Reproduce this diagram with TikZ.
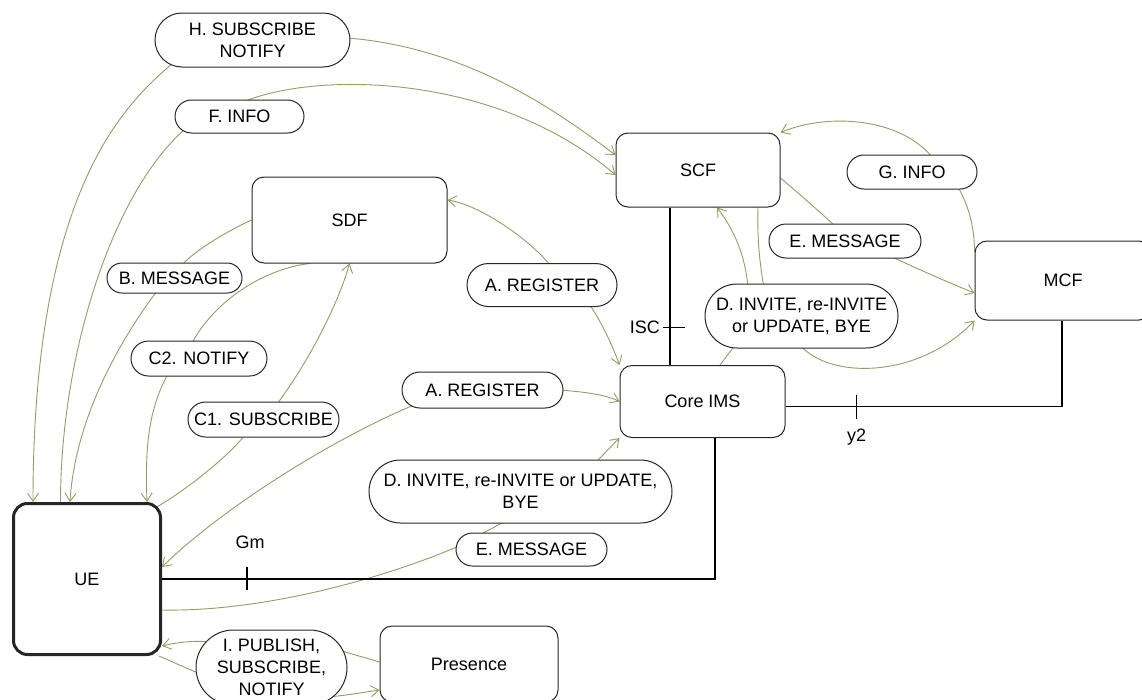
\documentclass[tikz,border=0pt]{standalone}
\usepackage{fontspec}
\setmainfont{Liberation Sans}
\usetikzlibrary{arrows.meta}
\usetikzlibrary{backgrounds}
\definecolor{flowgreen}{RGB}{145,160,95}

\begin{document}
\begin{tikzpicture}[x=1pt,y=-1pt,>={Straight Barb[length=8pt,width=11pt]},
  font=\fontsize{18}{22}\selectfont,
  box/.style={draw=black!85,line width=1pt,fill=white,rounded corners=12pt,inner sep=2pt},
  msg/.style={draw=black!85,line width=1pt,fill=white,align=center,inner sep=3pt,
    minimum height=#1,rounded corners=#1/2},
  flow/.style={draw=flowgreen,line width=0.9pt},
  link/.style={draw=black,line width=1.2pt},
  tag/.style={inner sep=1pt}]
\useasboundingbox (0,0) rectangle (1142,699);

% The boxes
\node[box,line width=3pt,rounded corners=14pt,minimum width=147pt,minimum height=151pt] (ue) at (87,579) {UE};
\node[box,minimum width=195pt,minimum height=86pt] (sdf) at (349.5,220) {SDF};
\node[box,minimum width=164pt,minimum height=74pt] (scf) at (698,170) {SCF};
\node[box,minimum width=165pt,minimum height=72pt] (core) at (702.5,401.5) {Core IMS};
\node[box,minimum width=176pt,minimum height=79pt] (mcf) at (1063,280.5) {MCF};
\node[box,minimum width=178pt,minimum height=76pt] (pres) at (469,664) {Presence};

% The message labels
\node[msg=54pt,minimum width=195pt] (h) at (252.5,40) {H. SUBSCRIBE\\NOTIFY};
\node[msg=33pt,minimum width=129pt] (f) at (239.5,116.5) {F. INFO};
\node[msg=30pt,minimum width=135pt] (b) at (174.5,278) {B. MESSAGE};
\node[msg=35pt,minimum width=136pt] (ctwo) at (199,358.5) {C2. NOTIFY};
\node[msg=35pt,minimum width=151pt] (cone) at (263.5,419.5) {C1. SUBSCRIBE};
\node[msg=43pt,minimum width=150pt] (aone) at (542,285) {A. REGISTER};
\node[msg=36pt,minimum width=161pt] (atwo) at (482.5,390) {A. REGISTER};
\node[msg=63pt,minimum width=303pt] (dtwo) at (520.5,491.5) {D. INVITE, re-INVITE or UPDATE,\\BYE};
\node[msg=33pt,minimum width=151pt] (etwo) at (531.5,549.5) {E. MESSAGE};
\node[msg=64pt,minimum width=193pt] (done) at (801.5,316) {D. INVITE, re-INVITE\\or UPDATE, BYE};
\node[msg=34pt,minimum width=152pt] (eone) at (845,241) {E. MESSAGE};
\node[msg=34pt,minimum width=130pt] (g) at (912,172) {G. INFO};
\node[msg=75pt,minimum width=151pt] (i) at (271.5,667.5) {I. PUBLISH,\\SUBSCRIBE,\\NOTIFY};

% The interfaces
\draw[link] ([xshift=-28pt]scf.south) -- coordinate[pos=.76] (isc) ([xshift=-28pt]scf.south |- core.north);
\draw[link] ([xshift=-7pt]isc) -- ([xshift=15pt]isc);
\node[tag,anchor=east] (isclab) at ([xshift=-9pt]isc) {ISC};

\draw[link] ([yshift=-5pt]core.east) -| ([xshift=-1pt]mcf.south);
\coordinate (ytwo) at ([shift={(71,5)}]core.east);
\draw[link] ([yshift=12pt]ytwo) -- ([yshift=-12pt]ytwo);
\node[tag] (ytwolab) at ([yshift=-31pt]ytwo) {y2};

\draw[link] ([xshift=12.5pt]core.south) |- (ue.east);
\coordinate (gm) at ([xshift=85pt]ue.east);
\draw[link] ([yshift=12pt]gm) -- ([yshift=-11pt]gm);
\node[tag] (gmlab) at ([xshift=3pt,yshift=37pt]gm) {Gm};

% The message flows, behind the labels
\begin{scope}[on background layer]
\draw[flow,<->] ([shift={(-54,0)}]ue.north) .. controls +(0,-323) and +(-42,37) .. ([shift={(-78.5,22)}]h.center)
  -- ([shift={(95.5,-2)}]h.center) .. controls +(120,10) and +(-60,-45) .. ([shift={(0,-15)}]scf.west);
\draw[flow,->] ([shift={(-26.5,0)}]ue.north) .. controls +(0,-142) and +(-75,66) .. ([shift={(-54.5,12.5)}]f.center)
  -- ([shift={(3.5,-14.5)}]f.center) .. controls +(77,-32) and +(-116,-100) .. ([shift={(0,5)}]scf.west);
\draw[flow,->] (sdf.west) .. controls +(-22,10) and +(13,-15) .. ([shift={(7.5,-13)}]b.center)
  -- ([shift={(-17.5,13)}]b.center) .. controls +(-37,49) and +(5,-83) .. ([shift={(-17,0)}]ue.north);
\draw[flow,->] ([shift={(-39.5,0)}]sdf.south) .. controls +(-45,5) and +(23,-43) .. ([shift={(-7,-15.5)}]ctwo.center)
  -- ([shift={(-31,15.5)}]ctwo.center) .. controls +(-20,36) and +(-2,-53) .. ([shift={(60,0)}]ue.north);
\draw[flow,->] ([shift={(-4.5,4.5)}]ue.north east) .. controls +(23,-13) and +(-20,25) .. ([shift={(-18.5,15.5)}]cone.center)
  -- ([shift={(13.5,-15.5)}]cone.center) .. controls +(33,-44) and +(-10,37) .. (sdf.south);
\draw[flow,<->] ([shift={(0,-20)}]sdf.east) .. controls +(33,5) and +(-20,-25) .. ([shift={(8,-20)}]aone.center)
  -- ([shift={(48,20)}]aone.center) .. controls +(13,20) and +(-6,-17) .. (core.north west);
\draw[flow,<->] ([shift={(0,-12)}]ue.east) .. controls +(58,-57) and +(-84,35) .. ([shift={(-68.5,15)}]atwo.center)
  -- ([shift={(77.5,0)}]atwo.center) .. controls +(25,2) and +(-15,-7) .. (core.west);
\draw[flow,->] ([shift={(0,31)}]ue.east) .. controls +(98,2) and +(-79,34) .. ([shift={(-72.5,-3.5)}]etwo.center)
  -- ([shift={(-5.5,24.5)}]dtwo.center) -- ([shift={(73.5,-27.5)}]dtwo.center)
  .. controls +(8,-8) and +(-8,8) .. (core.south west);
\draw[flow,->] ([shift={(17.5,0)}]core.north) -- ([shift={(-66.5,29)}]done.center) -- ([shift={(-53.5,-28)}]done.center)
  .. controls +(-3,-38) and +(13,17) .. ([shift={(19,0)}]scf.south);
\draw[flow,->] ([shift={(60,0)}]scf.south) .. controls +(-1,33) and +(-4,-23) .. ([shift={(-37.5,-28)}]done.center)
  -- ([shift={(-1.5,29)}]done.center) .. controls +(30,35) and +(-55,58) .. (mcf.south west);
\draw[flow,->] ([shift={(0,8)}]scf.east) .. controls +(20,17) and +(-15,-14) .. ([shift={(-10,-15)}]eone.center)
  -- ([shift={(45,15)}]eone.center) .. controls +(30,14) and +(-25,-10) .. ([shift={(0,12.5)}]mcf.west);
\draw[flow,->] ([shift={(0,-28.5)}]mcf.west) .. controls +(0,-27) and +(10,18) .. ([shift={(46,15)}]g.center)
  -- ([shift={(20,-15)}]g.center) .. controls +(-32,-39) and +(48,-20) .. (scf.north east);
\draw[flow,->] ([shift={(0,-2)}]pres.west) .. controls +(-12,-4) and +(10,4) .. ([shift={(68.5,-17.5)}]i.center)
  -- ([shift={(-59.5,-25.5)}]i.center) .. controls +(-20,-2) and +(12,-3) .. ([shift={(0,67)}]ue.east);
\draw[flow,->] ([shift={(-3,0)}]ue.south east) -- ([shift={(-71.5,6.5)}]i.center)
  -- ([shift={(53.5,29.5)}]i.center) .. controls +(20,-1) and +(-15,2) .. ([shift={(0,26)}]pres.west);
\end{scope}

\end{tikzpicture}
\end{document}
